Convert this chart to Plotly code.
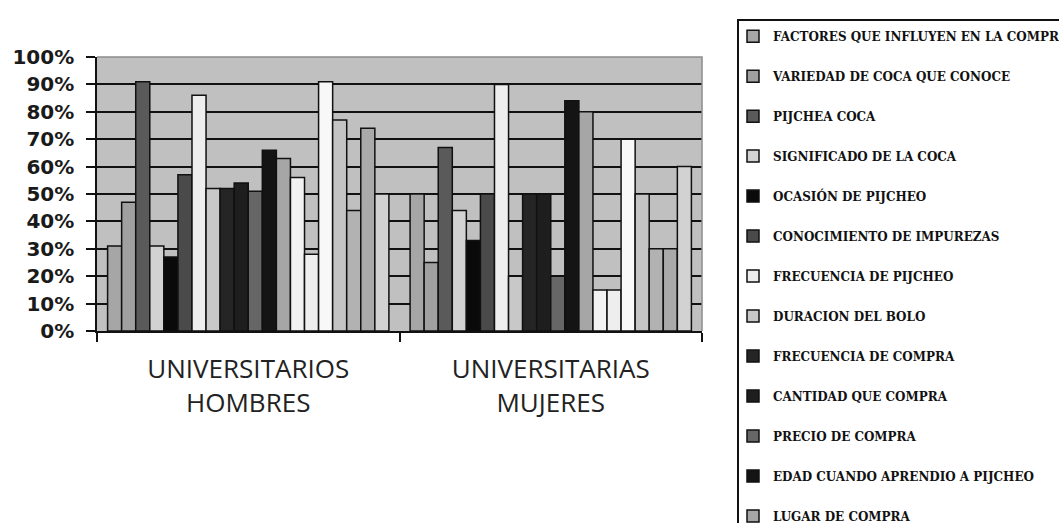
import plotly.graph_objects as go

categories = ["UNIVERSITARIOS<br>HOMBRES", "UNIVERSITARIAS<br>MUJERES"]

series_names = [
    "FACTORES QUE INFLUYEN EN LA COMPRA",
    "VARIEDAD DE COCA QUE CONOCE",
    "PIJCHEA COCA",
    "SIGNIFICADO DE LA COCA",
    "OCASIÓN DE PIJCHEO",
    "CONOCIMIENTO DE IMPUREZAS",
    "FRECUENCIA DE PIJCHEO",
    "DURACION DEL BOLO",
    "FRECUENCIA DE COMPRA",
    "CANTIDAD QUE COMPRA",
    "PRECIO DE COMPRA",
    "EDAD CUANDO APRENDIO A PIJCHEO",
    "LUGAR DE COMPRA",
]

# percentages per series (20 series; legend of the source only shows the first 13)
hombres = [31, 47, 91, 31, 27, 57, 86, 52, 52, 54, 51, 66, 63, 56, 28, 91, 77, 44, 74, 50]
mujeres = [50, 25, 67, 44, 33, 50, 90, 20, 50, 50, 20, 84, 80, 15, 15, 70, 50, 30, 30, 60]

fill_colors = [
    "#a6a6a6", "#a0a0a0", "#5a5a5a", "#d2d2d2", "#0a0a0a",
    "#4a4a4a", "#eeeeee", "#c8c8c8", "#252525", "#1e1e1e",
    "#666666", "#141414", "#a6a6a6", "#f2f2f2", "#eeeeee",
    "#f8f8f8", "#c4c4c4", "#b2b2b2", "#aaaaaa", "#d2d2d2",
]

fig = go.Figure()
for i in range(len(hombres)):
    shown = i < len(series_names)
    fig.add_trace(go.Bar(
        x=categories,
        y=[hombres[i] / 100, mujeres[i] / 100],
        name=series_names[i] if shown else "",
        showlegend=shown,
        legendgroup=f"g{i}",
        marker=dict(color=fill_colors[i], line=dict(color="#111111", width=1.5)),
    ))

W, H = 1059, 523
L, R, T, B = 97, 702, 57, 331

fig.update_layout(
    width=W, height=H,
    margin=dict(l=L, r=W - R, t=T, b=H - B, autoexpand=False),
    paper_bgcolor="white",
    plot_bgcolor="#c0c0c0",
    barmode="group",
    bargap=0.07,
    bargroupgap=0,
    legend=dict(
        x=(737 - L) / (R - L), y=1 + (T - 19) / (B - T),
        xanchor="left", yanchor="top",
        bgcolor="white", bordercolor="#111111", borderwidth=2,
        font=dict(family="DejaVu Serif Condensed", size=13.3, color="#111111", weight="bold"),
        tracegroupgap=19.7,
        indentation=-6,
        maxheight=1000,
    ),
    xaxis=dict(
        type="category",
        tickson="boundaries",
        ticks="outside", ticklen=9, tickwidth=1.5, tickcolor="#111111",
        showline=True, linecolor="#111111", linewidth=1.5,
        showgrid=False,
        ticklabelstandoff=14,
        tickfont=dict(family="Open Sans", size=26, color="#222222"),
    ),
    yaxis=dict(
        range=[0, 1], dtick=0.1, tickformat=".0%",
        ticks="outside", ticklen=9, tickwidth=1.5, tickcolor="#111111",
        showline=True, linecolor="#111111", linewidth=1.5,
        showgrid=True, gridcolor="#111111", gridwidth=1.6,
        zeroline=False,
        ticklabelstandoff=8,
        tickfont=dict(family="DejaVu Sans", size=20, color="#1a1a1a", weight="bold"),
    ),
    shapes=[dict(
        type="path", xref="paper", yref="paper",
        path="M 0,1 L 1,1 L 1,0",
        line=dict(color="#8c8c8c", width=1.5), layer="above",
    )],
)

fig.write_html("out.html")
